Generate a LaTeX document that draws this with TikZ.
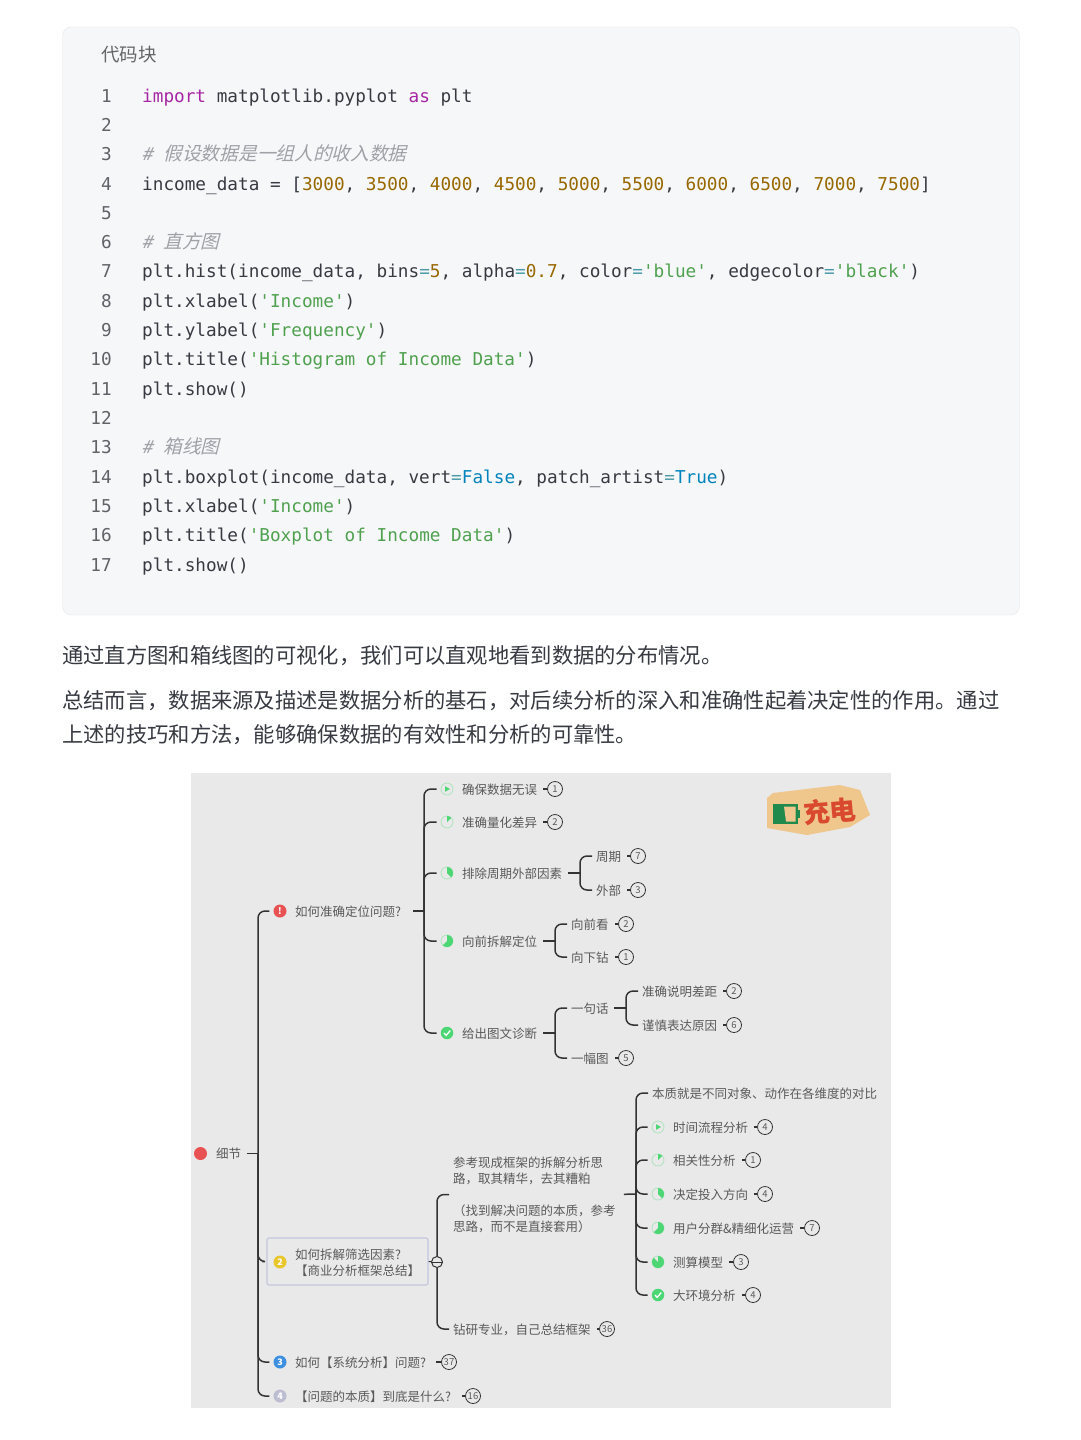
\documentclass[tikz,border=0pt]{standalone}
\usepackage{fontspec}
\setmainfont{Noto Sans CJK SC}
\setmonofont{DejaVu Sans Mono}
\newfontfamily\cjkslant[FakeSlant=0.25]{Noto Sans CJK SC}
\newfontfamily\monoslant[FakeSlant=0.2]{DejaVu Sans Mono}

\definecolor{pagebox}{HTML}{F6F7F9}
\definecolor{pageline}{HTML}{E4E6E9}
\definecolor{codeink}{HTML}{383A42}
\definecolor{lineno}{HTML}{5F6368}
\definecolor{codekw}{HTML}{A626A4}
\definecolor{codestr}{HTML}{50A14F}
\definecolor{codenum}{HTML}{986801}
\definecolor{codeop}{HTML}{0184BC}
\definecolor{codeeq}{HTML}{4A9AA8}
\definecolor{codecmt}{HTML}{A0A1A7}
\definecolor{mapbg}{HTML}{E9E9E9}
\definecolor{mapink}{HTML}{5A5A5A}
\definecolor{wireink}{HTML}{333333}
\definecolor{ringgreen}{HTML}{B4E4C2}
\definecolor{pipgreen}{HTML}{4CD674}
\definecolor{pipred}{HTML}{E85252}
\definecolor{pipyellow}{HTML}{E8C62C}
\definecolor{pipblue}{HTML}{3D8FE0}
\definecolor{piplilac}{HTML}{BDBDD2}
\definecolor{boxline}{HTML}{C4C7DE}
\definecolor{logotan}{HTML}{EFC68C}
\definecolor{logored}{HTML}{D9492E}
\definecolor{logogreen}{HTML}{1F8A4C}

\newcommand{\kw}[1]{\textcolor{codekw}{#1}}
\newcommand{\strv}[1]{\textcolor{codestr}{#1}}
\newcommand{\numv}[1]{\textcolor{codenum}{#1}}
\newcommand{\opv}[1]{\textcolor{codeop}{#1}}
\newcommand{\eqv}{\textcolor{codeeq}{=}}
\newcommand{\cmtv}[1]{\textcolor{codecmt}{{\monoslant \#\ }\cjkslant\fontsize{18.7}{20}\selectfont #1}}

\tikzset{
    codeline/.style={anchor=base west, inner sep=0, text=codeink, font=\fontsize{17.7}{20}\ttfamily},
    numline/.style={anchor=base east, inner sep=0, text=lineno, font=\fontsize{17.7}{20}\ttfamily},
    bodyline/.style={anchor=west, inner sep=0, text=codeink, font=\fontsize{21.3}{26}\selectfont},
    leaf/.style={anchor=west, inner sep=0, text=mapink, text height=11pt, text depth=1pt, font=\fontsize{12.5}{16}\selectfont},
    badge/.style={circle, draw=wireink, line width=0.8pt, minimum size=15pt, inner sep=0, text=mapink, font=\fontsize{9.5}{9.5}\selectfont},
    pip/.style={circle, fill=#1, minimum size=13pt, inner sep=0, text=white, font=\fontsize{9}{9}\bfseries},
    ring/.style={circle, draw=ringgreen, line width=0.9pt, minimum size=12pt, inner sep=0},
    wire/.style={draw=wireink, line width=1.5pt, rounded corners=7pt, shorten >=4pt},
    stem/.style={draw=wireink, line width=1.5pt, shorten <=6pt},
    tick/.style={draw=wireink, line width=1.2pt, shorten <=6pt}
}

\begin{document}
\begin{tikzpicture}[x=1pt, y=-1pt]
    \useasboundingbox (0,0) rectangle (1080,1440);
    \fill[white] (0,0) rectangle (1080,1440);

    % Code block
    \draw[pageline, fill=pagebox, rounded corners=9pt] (62.5,27) rectangle (1019.5,615);
    \node[anchor=west, inner sep=0, text=black!60, font=\fontsize{18.5}{20}\selectfont] (codetitle) at (101,54.5) {代码块};

    \foreach \n/\ty in {1/96,2/125,3/154,4/184,5/213,6/242,7/271,8/301,9/330,10/359,11/389,12/418,13/447,14/477,15/506,16/535,17/565}
        \node[numline] (num\n) at (112,\ty+6.5) {\n};

    \node[codeline] (code1) at (142,102.5) {\kw{import} matplotlib.pyplot \kw{as} plt};
    \node[codeline] (code3) at (142,160.5) {\cmtv{假设数据是一组人的收入数据}};
    \node[codeline] (code4) at (142,190.5) {income\_data = [\numv{3000}, \numv{3500}, \numv{4000}, \numv{4500}, \numv{5000}, \numv{5500}, \numv{6000}, \numv{6500}, \numv{7000}, \numv{7500}]};
    \node[codeline] (code6) at (142,248.5) {\cmtv{直方图}};
    \node[codeline] (code7) at (142,277.5) {plt.hist(income\_data, bins\eqv\numv{5}, alpha\eqv\numv{0.7}, color\eqv\strv{'blue'}, edgecolor\eqv\strv{'black'})};
    \node[codeline] (code8) at (142,307.5) {plt.xlabel(\strv{'Income'})};
    \node[codeline] (code9) at (142,336.5) {plt.ylabel(\strv{'Frequency'})};
    \node[codeline] (code10) at (142,365.5) {plt.title(\strv{'Histogram of Income Data'})};
    \node[codeline] (code11) at (142,395.5) {plt.show()};
    \node[codeline] (code13) at (142,453.5) {\cmtv{箱线图}};
    \node[codeline] (code14) at (142,483.5) {plt.boxplot(income\_data, vert\eqv\opv{False}, patch\_artist\eqv\opv{True})};
    \node[codeline] (code15) at (142,512.5) {plt.xlabel(\strv{'Income'})};
    \node[codeline] (code16) at (142,541.5) {plt.title(\strv{'Boxplot of Income Data'})};
    \node[codeline] (code17) at (142,571.5) {plt.show()};

    % Body text
    \node[bodyline] (body1) at (62,655.5) {通过直方图和箱线图的可视化，我们可以直观地看到数据的分布情况。};
    \node[bodyline] (body2) at (62,700.5) {总结而言，数据来源及描述是数据分析的基石，对后续分析的深入和准确性起着决定性的作用。通过};
    \node[bodyline] (body3) at (62,734.5) {上述的技巧和方法，能够确保数据的有效性和分析的可靠性。};

    % Map background
    \fill[mapbg] (191,773) rectangle (890.5,1407.5);

    % Sticker
    \fill[logotan] (767,798) -- (773,793) -- (840,785) -- (860,790) -- (870,815) -- (850,827) -- (807,835) -- (767,828) -- cycle;
    \fill[logogreen] (772.5,804) rectangle (798,824);
    \fill[logotan] (784,806.5) -- (795.5,806.5) -- (795.5,821.5) -- (786,821.5) -- cycle;
    \fill[logogreen] (798,809.5) rectangle (800,818);
    \node[inner sep=0, rotate=5, text=logored, font=\fontsize{26.5}{26.5}\bfseries] (stickertext) at (830,811) {充电};

    % Root
    \node[pip=pipred] (rootdot) at (200.5,1153.5) {};
    \node[leaf] (root) at (216,1153.5) {细节};
    \coordinate (hub) at (258,1153.5);
    \draw[stem] (root.east) -- (hub);

    % Icons of the first level
    \node[pip=pipred] (pipa) at (280,911) {!};
    \node[pip=pipblue] (pipc) at (280,1362) {3};
    \node[pip=piplilac] (pipd) at (280,1396) {4};

    % Frame of the second topic
    \node[draw=boxline, line width=1.1pt, rounded corners=2pt, minimum width=161pt, minimum height=47pt, inner sep=0] (framed) at (347.5,1261.5) {};
    \node[pip=pipyellow] (pipb) at (280,1262) {2};
    \node[anchor=west, inner sep=0, align=left, text=mapink, font=\fontsize{12.5}{16}\selectfont] (topicb) at (295,1262.5) {如何拆解筛选因素?\\【商业分析框架总结】};

    % Texts
    \foreach \nm/\tx/\ty/\lab in {
        topica/295/911/如何准确定位问题?,
        topicc/295/1362/如何【系统分析】问题?,
        topicd/295/1396/【问题的本质】到底是什么?,
        aa/462/789/确保数据无误,
        ab/462/822/准确量化差异,
        ac/462/873/排除周期外部因素,
        ad/462/941/向前拆解定位,
        ae/462/1033/给出图文诊断,
        aca/596/856/周期,
        acb/596/890/外部,
        ada/571/924/向前看,
        adb/571/957/向下钻,
        aea/571/1008/一句话,
        aeb/571/1058/一幅图,
        aeaa/642/991/准确说明差距,
        aeab/642/1025/谨慎表达原因,
        bb/453/1329/钻研专业，自己总结框架,
        baa/652/1093/本质就是不同对象、动作在各维度的对比,
        bab/673/1127/时间流程分析,
        bac/673/1160/相关性分析,
        bad/673/1194/决定投入方向,
        bae/673/1228/用户分群\&精细化运营,
        baf/673/1262/测算模型,
        bag/673/1295/大环境分析}
        \node[leaf] (\nm) at (\tx,\ty) {\lab};
    \node[anchor=west, inner sep=0, align=left, text=mapink, font=\fontsize{12.5}{16}\selectfont] (ba) at (453,1194.5) {参考现成框架的拆解分析思\\路，取其精华，去其糟粕\\\mbox{}\\（找到解决问题的本质，参考\\思路，而不是直接套用）};

    % Round counters
    \foreach \nm/\tx/\ty/\lab/\gap in {
        aa/555/789/1/6, ab/555/822/2/6, aca/638/856/7/6, acb/638/890/3/6,
        ada/626/924/2/6, adb/626/957/1/6, aeaa/734/991/2/6, aeab/734/1025/6/6,
        aeb/626/1058/5/6, bab/765/1127/4/6, bac/753/1160/1/6, bad/765/1194/4/6,
        bae/812/1228/7/6, baf/741/1262/3/6, bag/753/1295/4/6, bb/607/1329/36/6,
        topicc/449/1362/37/10, topicd/473/1396/16/11}
    {
        \node[badge] (n\nm) at (\tx,\ty) {\lab};
        \draw[tick, shorten <=\gap pt] (\nm.east) -- (n\nm.west);
    }

    % Progress rings
    \foreach \nm/\ix/\iy/\sw in {
        ib/447/822/45, ic/447/873/135, id/447/941/225,
        ibc/658/1160/45, ibd/658/1194/135, ibe/658/1228/225, ibf/658/1262/315}
    {
        \node[ring] (\nm) at (\ix,\iy) {};
        \fill[pipgreen] (\nm.center) -- ++(-90:6) arc (-90:-90+\sw:6) -- cycle;
    }
    \foreach \nm/\ix/\iy in {ia/447/789, ibb/658/1127}
    {
        \node[ring] (\nm) at (\ix,\iy) {};
        \fill[pipgreen] (\ix-2,\iy-2.8) -- (\ix+3,\iy) -- (\ix-2,\iy+2.8) -- cycle;
    }
    \foreach \nm/\ix/\iy in {ie/447/1033, ibg/658/1295}
    {
        \node[pip=pipgreen, minimum size=12.5pt] (\nm) at (\ix,\iy) {};
        \draw[white, line width=1.3pt] (\ix-3,\iy) -- (\ix-0.8,\iy+2.4) -- (\ix+3.2,\iy-2.4);
    }

    % Junctions
    \coordinate (spa) at (424,911);
    \coordinate (spac) at (580,873);
    \coordinate (spad) at (555,941);
    \coordinate (spae) at (555,1033);
    \coordinate (spaea) at (626,1008);
    \coordinate (spba) at (636,1194);
    \node[circle, draw=wireink, fill=mapbg, line width=1pt, minimum size=11pt, inner sep=0] (spb) at (437,1262) {};

    % Connectors
    \foreach \child in {pipa,framed,pipc,pipd}
        \draw[wire] (hub) |- (\child);
    \foreach \child in {ia,ib,ic,id,ie}
        \draw[wire] (spa) |- (\child);
    \foreach \child in {aca,acb}
        \draw[wire] (spac) |- (\child);
    \foreach \child in {ada,adb}
        \draw[wire] (spad) |- (\child);
    \foreach \child in {aea,aeb}
        \draw[wire] (spae) |- (\child);
    \foreach \child in {aeaa,aeab}
        \draw[wire] (spaea) |- (\child);
    \foreach \child in {baa,ibb,ibc,ibd,ibe,ibf,ibg}
        \draw[wire] (spba) |- (\child);
    \draw[wire] (spb.north) |- (ba);
    \draw[wire] (spb.south) |- (bb);
    \draw[stem, shorten <=12pt] (topica.east) -- (spa);
    \draw[stem] (ac.east) -- (spac);
    \draw[stem] (ad.east) -- (spad);
    \draw[stem] (ae.east) -- (spae);
    \draw[stem, shorten <=5pt] (aea.east) -- (spaea);
    \draw[stem, shorten <=8pt] (ba.east) -- (spba);
    \draw[draw=wireink, line width=1pt] (framed.east) -- (spb);
    \draw[wireink, line width=1pt] (spb.west) -- (spb.east);
\end{tikzpicture}
\end{document}
